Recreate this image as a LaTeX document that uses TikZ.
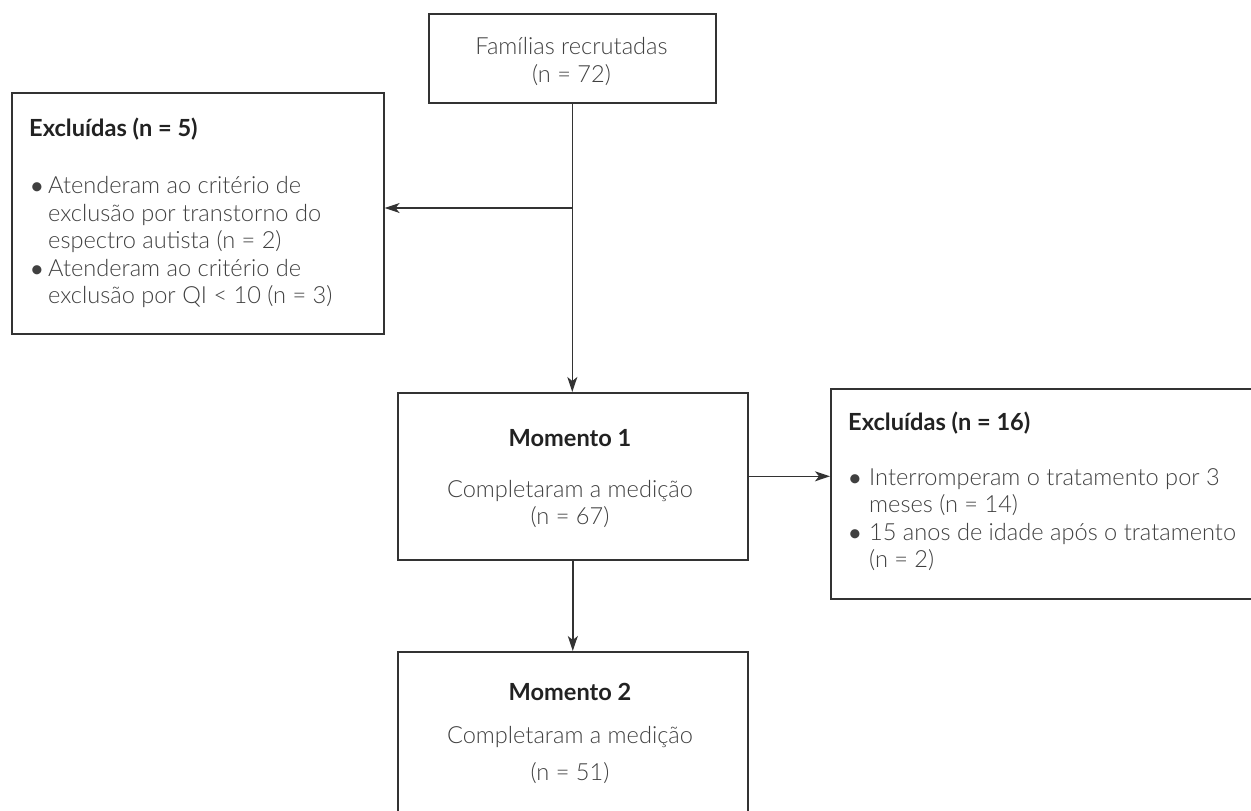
\documentclass[tikz,border=0pt]{standalone}
\usepackage{fontspec}
\setmainfont{Lato}[UprightFont=* Light, BoldFont=* Bold]
\usetikzlibrary{arrows.meta,positioning}
\definecolor{linegray}{HTML}{333333}
\definecolor{textgray}{HTML}{404040}
\definecolor{hdrgray}{HTML}{222222}

\begin{document}
\begin{tikzpicture}[x=1pt, y=-1pt, >={Stealth[length=15pt,width=10pt,inset=4pt]}]

% --- estilos ---
\tikzset{
  box/.style={draw=linegray, line width=1.6pt, fill=white, inner sep=0pt, anchor=north west},
  txt/.style={font=\fontsize{23.6}{28}\selectfont, text=textgray, inner sep=0pt},
  hdr/.style={font=\fontsize{23.6}{28}\selectfont\bfseries, text=hdrgray, inner sep=0pt},
  dot/.style={font=\fontsize{21}{28}\selectfont\bfseries, text=textgray, inner sep=0pt},
  flow/.style={->, draw=linegray, line width=1.4pt}
}

\useasboundingbox (0,0) rectangle (1251,811);

% --- caixas ---
\node[box, minimum width=287pt, minimum height=89pt]  (recrut) at (428,13)  {};
\node[box, minimum width=372pt, minimum height=241pt] (excl1)  at (11,92)   {};
\node[box, minimum width=350pt, minimum height=167pt] (mom1)   at (397,392) {};
\node[box, minimum width=460pt, minimum height=210pt] (excl2)  at (830,388) {};
\node[box, minimum width=350pt, minimum height=200pt] (mom2)   at (397,651) {};

% --- setas ---
\coordinate (split) at (571.5,208);
\draw[flow] (recrut.south) -- (recrut.south |- mom1.north);
\draw[flow] (split) -- (split -| excl1.east);
\draw[flow] (mom1.east) -- (mom1.east -| excl2.west);
\draw[flow] (mom1.south) -- (mom2.north);

% --- familias recrutadas ---
\node[txt, anchor=base] (recrut-a) at (571.5,54) {Famílias recrutadas};
\node[txt, anchor=base] (recrut-b) at (571.5,82) {(n = 72)};

% --- excluidas (n = 5) ---
\node[hdr, anchor=base west] (excl1-h) at (29,136) {Excluídas (n = 5)};
\node[dot, anchor=base]      (excl1-b1) at (37,193) {•};
\node[txt, anchor=base west] (excl1-a) at (48,193) {Atenderam ao critério de};
\node[txt, anchor=base west] (excl1-c) at (48,221) {exclusão por transtorno do};
\node[txt, anchor=base west] (excl1-d) at (48,248) {espectro autista (n = 2)};
\node[dot, anchor=base]      (excl1-b2) at (37,276) {•};
\node[txt, anchor=base west] (excl1-e) at (48,276) {Atenderam ao critério de};
\node[txt, anchor=base west] (excl1-f) at (48,303) {exclusão por QI < 10 (n = 3)};

% --- momento 1 ---
\node[hdr, anchor=base] (mom1-h) at (570,446) {Momento 1};
\node[txt, anchor=base] (mom1-a) at (570,497) {Completaram a medição};
\node[txt, anchor=base] (mom1-b) at (570,524) {(n = 67)};

% --- excluidas (n = 16) ---
\node[hdr, anchor=base west] (excl2-h) at (848,430) {Excluídas (n = 16)};
\node[dot, anchor=base]      (excl2-b1) at (855,485) {•};
\node[txt, anchor=base west] (excl2-a) at (869,485) {Interromperam o tratamento por 3};
\node[txt, anchor=base west] (excl2-c) at (869,512) {meses (n = 14)};
\node[dot, anchor=base]      (excl2-b2) at (855,540) {•};
\node[txt, anchor=base west] (excl2-d) at (869,540) {15 anos de idade após o tratamento};
\node[txt, anchor=base west] (excl2-e) at (869,567) {(n = 2)};

% --- momento 2 ---
\node[hdr, anchor=base] (mom2-h) at (570,700) {Momento 2};
\node[txt, anchor=base] (mom2-a) at (570,743) {Completaram a medição};
\node[txt, anchor=base] (mom2-b) at (570,780) {(n = 51)};

\end{tikzpicture}
\end{document}
